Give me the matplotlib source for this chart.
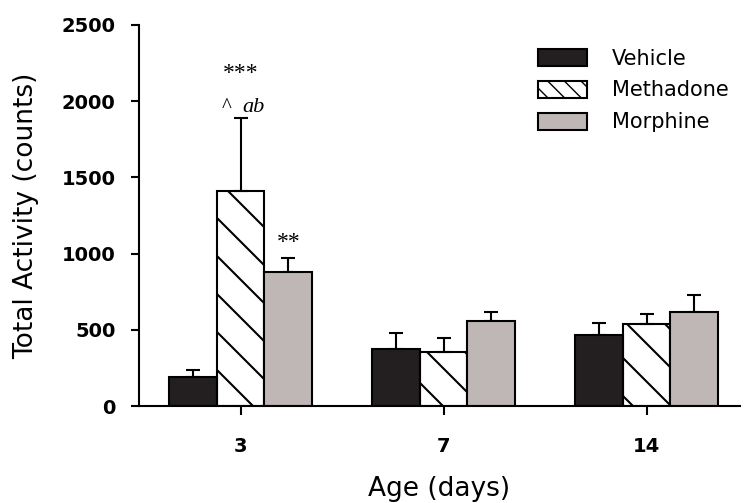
import numpy as np
import matplotlib
matplotlib.use('Agg')
import matplotlib.pyplot as plt
from matplotlib.collections import LineCollection
from matplotlib.patches import Patch
from matplotlib.transforms import IdentityTransform

# datos
ages = ['3', '7', '14']
groups = ['Vehicle', 'Methadone', 'Morphine']
vehicle = [190, 375, 465]
vehicle_err = [45, 105, 80]
methadone = [1410, 355, 540]
methadone_err = [480, 90, 65]
morphine = [880, 560, 620]
morphine_err = [90, 60, 110]

vehicle_color = '#231f20'
morphine_color = '#bfb7b5'
width = 0.235
lw = 1.5

fig = plt.figure(figsize=(7.5, 5.03), dpi=100)
ax = fig.add_axes([139 / 750, 1 - 406 / 503, 601 / 750, 381 / 503])

x = np.arange(len(ages))
err_kw = dict(ecolor='black', elinewidth=lw, capsize=5, capthick=lw)

ax.bar(x - width, vehicle, width, color=vehicle_color, edgecolor='black',
       linewidth=lw, zorder=2)
meth_bars = ax.bar(x, methadone, width, facecolor='none', edgecolor='black',
                   linewidth=lw, zorder=2)
ax.bar(x + width, morphine, width, color=morphine_color, edgecolor='black',
       linewidth=lw, zorder=2)

ax.errorbar(x - width, vehicle, yerr=[np.zeros(3), vehicle_err], fmt='none', zorder=1, **err_kw)
ax.errorbar(x, methadone, yerr=[np.zeros(3), methadone_err], fmt='none', zorder=1, **err_kw)
ax.errorbar(x + width, morphine, yerr=[np.zeros(3), morphine_err], fmt='none', zorder=1, **err_kw)

ax.set_xlim(-0.5, 2.46)
ax.set_ylim(0, 2500)

# rayado ancho de las barras de metadona (en pixeles)
bb = ax.get_window_extent()
step = 38
segs = []
for c in np.arange(bb.x0 - bb.height, bb.x1 + bb.height, step):
    segs.append([(c, bb.y1), (c + bb.height, bb.y0)])
for bar in meth_bars:
    lc = LineCollection(segs, colors='black', linewidths=lw,
                        transform=IdentityTransform(), zorder=1.5)
    ax.add_collection(lc, autolim=False)
    lc.set_clip_path(bar)

# anotaciones
serif = 'Liberation Serif'
top_m = methadone[0] + methadone_err[0]
ax.annotate('***', xy=(x[0], top_m), xytext=(0, 32), textcoords='offset points',
            ha='center', va='center', fontsize=17, family=serif)
ax.annotate('^', xy=(x[0], top_m), xytext=(-10, 4), textcoords='offset points',
            ha='center', va='baseline', fontsize=15, family=serif)
ax.annotate('ab', xy=(x[0], top_m), xytext=(9, 4), textcoords='offset points',
            ha='center', va='baseline', fontsize=16, family=serif, style='italic')
ax.annotate('**', xy=(x[0] + width, morphine[0] + morphine_err[0]), xytext=(0, 11.5),
            textcoords='offset points', ha='center', va='center', fontsize=17, family=serif)

ax.spines['top'].set_visible(False)
ax.spines['right'].set_visible(False)
ax.spines['left'].set_linewidth(lw)
ax.spines['bottom'].set_linewidth(lw)

ax.set_xticks(x)
ax.set_xticklabels(ages)
ax.set_yticks(np.arange(0, 2501, 500))
ax.tick_params(axis='x', length=6.5, width=lw, pad=16, labelsize=14)
ax.tick_params(axis='y', length=6, width=lw, pad=11, labelsize=14)
for t in ax.get_xticklabels() + ax.get_yticklabels():
    t.set_fontweight('bold')

ax.set_xlabel('Age (days)', fontsize=19, labelpad=14)
ax.set_ylabel('Total Activity (counts)', fontsize=19, labelpad=16)

handles = [Patch(facecolor=vehicle_color, edgecolor='black', linewidth=lw),
           Patch(facecolor='white', edgecolor='black', linewidth=lw, hatch='\\\\'),
           Patch(facecolor=morphine_color, edgecolor='black', linewidth=lw)]
ax.legend(handles, groups, loc='upper left', bbox_to_anchor=(0.664, 0.938),
          frameon=False, fontsize=15, handlelength=2.35, handleheight=0.87,
          labelspacing=0.57, handletextpad=1.2, borderpad=0, borderaxespad=0)

plt.savefig('out.png', dpi=100)
